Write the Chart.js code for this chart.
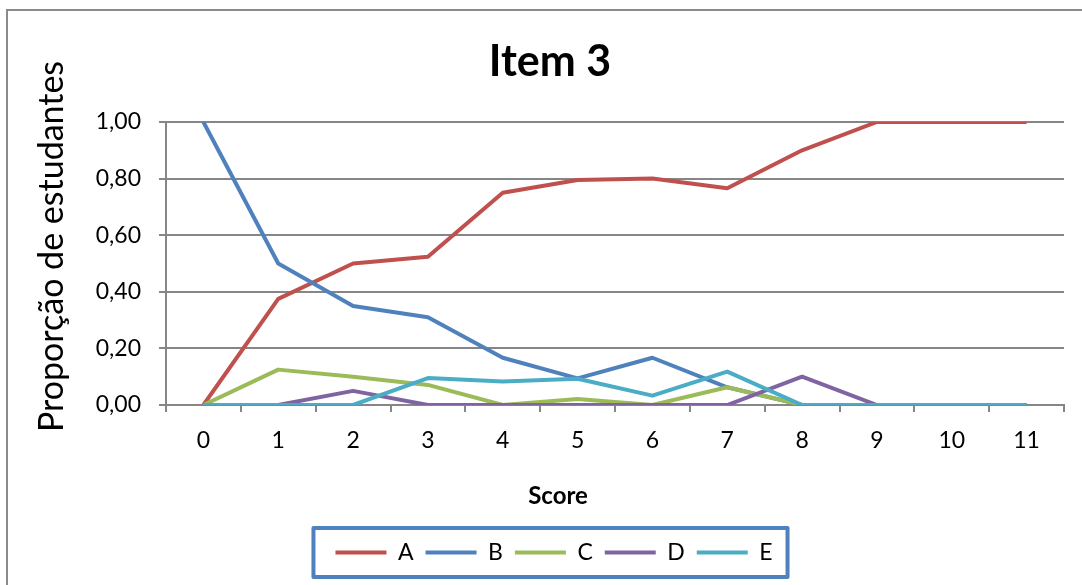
<!DOCTYPE html>
<html>
<head>
<meta charset="utf-8">
<script src="https://cdn.jsdelivr.net/npm/chart.js@4/dist/chart.umd.min.js"></script>
<style>
  html, body { margin: 0; padding: 0; background: #ffffff; }
  #wrap { width: 1082px; height: 585px; }
</style>
</head>
<body>
<div id="wrap"><canvas id="chart" width="1082" height="585"></canvas></div>
<script>
// Scores on the horizontal axis
const scores = ['0', '1', '2', '3', '4', '5', '6', '7', '8', '9', '10', '11'];

// Proportion of students choosing each option, per score
const optionA = [0, 0.375, 0.50, 0.524, 0.75, 0.795, 0.80, 0.766, 0.90, 1, 1, 1];
const optionB = [1, 0.50, 0.35, 0.31, 0.167, 0.094, 0.167, 0.0625, 0, 0, 0, 0];
const optionC = [0, 0.125, 0.10, 0.071, 0, 0.021, 0, 0.0625, 0, 0, 0, 0];
const optionD = [0, 0, 0.05, 0, 0, 0, 0, 0, 0.10, 0, 0, 0];
const optionE = [0, 0, 0, 0.095, 0.083, 0.093, 0.033, 0.118, 0, 0, 0, 0];

const seriesNames = ['A', 'B', 'C', 'D', 'E'];
const seriesValues = [optionA, optionB, optionC, optionD, optionE];
const seriesColors = ['#c0504d', '#4f81bd', '#9bbb59', '#8064a2', '#4bacc6'];

// Vertical axis tick labels (decimal comma)
const yTickLabels = ['0,00', '0,20', '0,40', '0,60', '0,80', '1,00'];

const chartTitle = 'Item 3';
const yAxisTitle = 'Proporção de estudantes';
const xAxisTitle = 'Score';

const FONT = 'Lato, "Open Sans", sans-serif';
const GRID = '#868686';

const datasets = seriesNames.map((name, i) => ({
  label: name,
  data: seriesValues[i],
  borderColor: seriesColors[i],
  backgroundColor: seriesColors[i],
  borderWidth: 4,
  borderJoinStyle: 'round',
  pointRadius: 0,
  pointHoverRadius: 0,
  pointStyle: 'line',
  tension: 0,
  fill: false,
  // later series are painted over earlier ones
  order: seriesNames.length - i
}));

// White page with the grey outer frame
const framePlugin = {
  id: 'frame',
  beforeDraw(chart) {
    const ctx = chart.ctx;
    ctx.save();
    ctx.fillStyle = '#ffffff';
    ctx.fillRect(0, 0, chart.width, chart.height);
    ctx.strokeStyle = '#8a8a8a';
    ctx.lineWidth = 2;
    ctx.strokeRect(7, 10, chart.width + 20, chart.height + 20);
    ctx.restore();
  }
};

// Chart title, axis titles and the border round the legend
const textPlugin = {
  id: 'texts',
  afterDraw(chart) {
    const ctx = chart.ctx;
    const area = chart.chartArea;
    ctx.save();
    ctx.fillStyle = '#000000';

    // Title
    ctx.font = 'bold 43px ' + FONT;
    ctx.textAlign = 'center';
    ctx.textBaseline = 'alphabetic';
    ctx.fillText(chartTitle, 550, 76);

    // Horizontal axis title
    ctx.font = 'bold 24px ' + FONT;
    ctx.fillText(xAxisTitle, 558, 504);

    // Vertical axis title
    ctx.save();
    ctx.translate(63, (area.top + area.bottom) / 2 - 17);
    ctx.rotate(-Math.PI / 2);
    ctx.font = '34px ' + FONT;
    ctx.textAlign = 'center';
    ctx.textBaseline = 'alphabetic';
    ctx.fillText(yAxisTitle, 0, 0);
    ctx.restore();

    // Legend frame
    const boxes = chart.legend.legendHitBoxes;
    if (boxes && boxes.length) {
      const first = boxes[0];
      const last = boxes[boxes.length - 1];
      const left = first.left - 22;
      const right = last.left + last.width + 15;
      const top = first.top - 13;
      const bottom = first.top + first.height + 13;
      ctx.strokeStyle = '#4f81bd';
      ctx.lineWidth = 4;
      ctx.lineJoin = 'round';
      ctx.strokeRect(left, top, right - left, bottom - top);
    }
    ctx.restore();
  }
};

new Chart(document.getElementById('chart'), {
  type: 'line',
  data: { labels: scores, datasets },
  options: {
    responsive: false,
    animation: false,
    devicePixelRatio: 1,
    layout: { padding: { top: 122, left: 44, right: 18, bottom: 11 } },
    plugins: {
      title: { display: false },
      tooltip: { enabled: false },
      legend: {
        position: 'bottom',
        labels: {
          usePointStyle: true,
          pointStyle: 'line',
          pointStyleWidth: 51,
          padding: 12,
          color: '#000000',
          font: { family: FONT, size: 23 },
          sort: (a, b) => a.datasetIndex - b.datasetIndex
        }
      }
    },
    scales: {
      x: {
        type: 'category',
        offset: true,
        grid: {
          offset: true,
          drawOnChartArea: false,
          drawTicks: true,
          tickLength: 7,
          color: GRID,
          lineWidth: 2
        },
        border: { display: true, color: GRID, width: 2 },
        ticks: {
          color: '#000000',
          padding: 15,
          maxRotation: 0,
          autoSkip: false,
          font: { family: FONT, size: 23 }
        },
        afterFit(scale) { scale.height = 124; }
      },
      y: {
        min: 0,
        max: 1,
        grid: {
          drawTicks: true,
          tickLength: 7,
          color: GRID,
          lineWidth: 2
        },
        border: { display: true, color: GRID, width: 2 },
        ticks: {
          stepSize: 0.2,
          color: '#000000',
          padding: 18,
          font: { family: FONT, size: 23 },
          callback: (value, index) => yTickLabels[index]
        },
        afterFit(scale) { scale.width = 122; }
      }
    }
  },
  plugins: [framePlugin, textPlugin]
});
</script>
</body>
</html>
